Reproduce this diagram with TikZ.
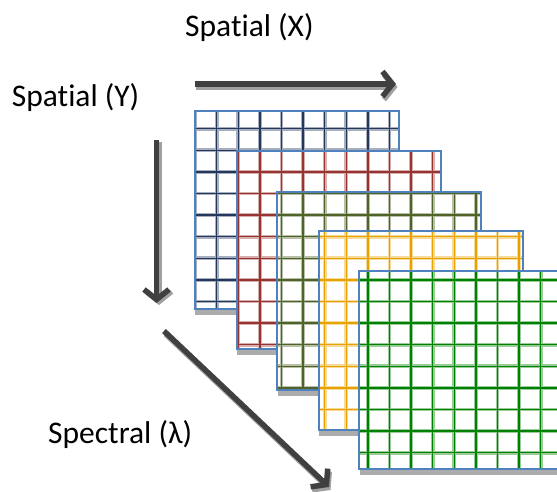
\documentclass[tikz,border=0pt]{standalone}
\usepackage{fontspec}
\setmainfont[Ligatures=NoCommon]{Carlito}
\usetikzlibrary{arrows.meta}
\definecolor{frameblue}{RGB}{79,129,189}
\definecolor{cnavy}{RGB}{36,56,92}
\definecolor{cred}{RGB}{150,52,50}
\definecolor{colive}{RGB}{79,98,40}
\definecolor{cgold}{RGB}{232,162,0}
\definecolor{cgreen}{RGB}{0,128,0}
\definecolor{arrowdark}{RGB}{64,64,64}
\definecolor{arrowshade}{RGB}{160,160,160}
\newcommand\drawlayer[4]{%
  \fill[gray!65] (#1+0.5,#2+6) rectangle ++(204,198.6);
  \fill[white] (#1,#2) rectangle ++(204,198.6);
  \begin{scope}
    \clip (#1,#2) rectangle ++(204,198.6);
    \foreach \k in {-1,...,16} {
      \draw[#3!40, line width=3.8] ({216.7+21.6*\k},100) -- ({216.7+21.6*\k},480);
      \draw[#3!40, line width=3.8] (180,{128.7+21.6*\k}) -- (570,{128.7+21.6*\k});
    }
    \foreach \k in {-1,...,16} {
      \draw[#3, line width=1.5] ({216.7+21.6*\k},100) -- ({216.7+21.6*\k},480);
      \draw[#3, line width=1.5] (180,{128.7+21.6*\k}) -- (570,{128.7+21.6*\k});
    }
  \end{scope}
  \draw[frameblue, line width=2] (#1,#2) rectangle ++(204,198.6);
  \coordinate (#4) at (#1,#2);
}
\tikzset{
  axisarrow/.style={arrowdark, line width=5.5, -{Straight Barb[length=10,width=25]}},
  axisshade/.style={arrowshade, line width=5.5, -{Straight Barb[length=10,width=25]}},
  label/.style={font=\fontsize{31.5}{37}\selectfont, inner sep=0pt, anchor=base west}
}
\begin{document}
\begin{tikzpicture}[x=1pt, y=-1pt]
\useasboundingbox (0,0) rectangle (557,491);
\clip (0,0) rectangle (557,491);
\fill[white] (0,0) rectangle (557,491);
% layers
\drawlayer{194.7}{110.7}{cnavy}{L1}
\drawlayer{236.7}{150.7}{cred}{L2}
\drawlayer{277.3}{191.5}{colive}{L3}
\drawlayer{318.7}{231.3}{cgold}{L4}
\drawlayer{359.3}{270.7}{cgreen}{L5}
% labels
\node[label] (sx) at (185,36) {Spatial (X)};
\node[label] (sy) at (11.7,106.7) {Spatial (Y)};
\node[label] (sl) at (48,443) {Spectral (λ)};
% arrow end points
\coordinate (xa) at (194.7,84);
\coordinate (xb) at (396,84);
\coordinate (ya) at (156.5,140);
\coordinate (yb) at (156.5,303);
\coordinate (la) at (164,331);
\coordinate (lb) at (329,487);
% shadows
\draw[axisshade] ([shift={(1.5,3)}]xa) -- ([shift={(1.5,3)}]xb);
\draw[axisshade] ([shift={(2.5,2)}]ya) -- ([shift={(2.5,2)}]yb);
\draw[axisshade] ([shift={(1.5,3)}]la) -- ([shift={(1.5,3)}]lb);
% arrows
\draw[axisarrow] (xa) -- (xb);
\draw[axisarrow] (ya) -- (yb);
\draw[axisarrow] (la) -- (lb);
\end{tikzpicture}
\end{document}
